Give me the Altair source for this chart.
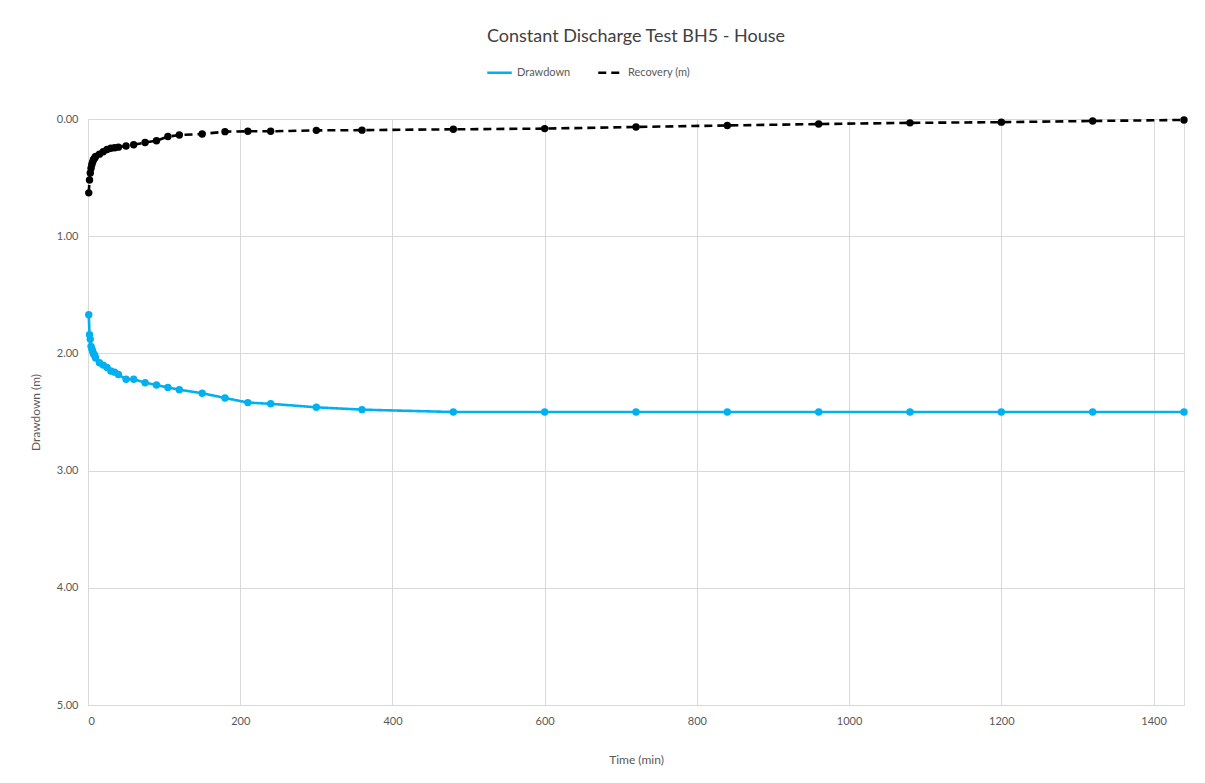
import altair as alt
import pandas as pd

times = [1, 2, 3, 4, 5, 6, 7, 8, 9, 10, 15, 20, 25, 30, 35, 40, 50, 60, 75, 90,
         105, 120, 150, 180, 210, 240, 300, 360, 480, 600, 720, 840, 960, 1080,
         1200, 1320, 1440]
drawdown = [1.67, 1.84, 1.88, 1.94, 1.96, 1.98, 2.00, 2.01, 2.02, 2.04, 2.08, 2.10,
            2.12, 2.15, 2.16, 2.18, 2.22, 2.22, 2.25, 2.27, 2.29, 2.31, 2.34, 2.38,
            2.42, 2.43, 2.46, 2.48, 2.50, 2.50, 2.50, 2.50, 2.50, 2.50, 2.50, 2.50, 2.50]
recovery = [0.63, 0.52, 0.46, 0.42, 0.39, 0.37, 0.35, 0.34, 0.33, 0.32, 0.30, 0.28,
            0.26, 0.25, 0.245, 0.24, 0.23, 0.22, 0.20, 0.185, 0.15, 0.137, 0.128, 0.108,
            0.105, 0.105, 0.097, 0.095, 0.088, 0.082, 0.068, 0.055, 0.043, 0.033,
            0.027, 0.017, 0.008]
series_names = ["Drawdown", "Recovery (m)"]
series_colors = ["#00B0F0", "#000000"]
x_ticks = [0, 200, 400, 600, 800, 1000, 1200, 1400]
y_ticks = [0, 1, 2, 3, 4, 5]

rows = []
for t, d in zip(times, drawdown):
    rows.append({"t": t, "v": d, "s": series_names[0]})
for t, r in zip(times, recovery):
    rows.append({"t": t, "v": r, "s": series_names[1]})
df = pd.DataFrame(rows)

FONT = "Lato"
GRAY = "#595959"

x = alt.X("t:Q", title="Time (min)",
          scale=alt.Scale(domain=[0, 1440], nice=False, zero=True),
          axis=alt.Axis(values=x_ticks, format="d", grid=True, gridColor="#d9d9d9",
                        ticks=False, domainColor="#d9d9d9", labelColor=GRAY,
                        labelFontSize=11, labelFont=FONT, titleFont=FONT,
                        titleFontSize=12, titleFontWeight="normal", titleColor=GRAY,
                        labelPadding=10, titlePadding=28))
y = alt.Y("v:Q", title="Drawdown (m)",
          scale=alt.Scale(domain=[0, 5], reverse=True, nice=False),
          axis=alt.Axis(values=y_ticks, format=".2f", grid=True, gridColor="#d9d9d9",
                        ticks=False, domainColor="#d9d9d9", labelColor=GRAY,
                        labelFontSize=11, labelFont=FONT, titleFont=FONT,
                        titleFontSize=12, titleFontWeight="normal", titleColor=GRAY,
                        labelPadding=10, titlePadding=14))
legend_cfg = dict(orient="none", legendX=398, legendY=-60, direction="horizontal",
                  symbolType="stroke", symbolStrokeWidth=2.5, symbolSize=600,
                  labelFont=FONT, labelFontSize=11, labelColor=GRAY, columnPadding=22)
color = alt.Color("s:N", title=None,
                  scale=alt.Scale(domain=series_names, range=series_colors),
                  legend=alt.Legend(**legend_cfg))
dash = alt.StrokeDash("s:N", title=None,
                      scale=alt.Scale(domain=series_names, range=[[1, 0], [8, 5]]),
                      legend=alt.Legend(**legend_cfg))

lines = alt.Chart(df).mark_line(strokeWidth=2.6).encode(
    x=x, y=y, color=color, strokeDash=dash, detail="s:N")
points = alt.Chart(df).mark_point(filled=True, size=55, opacity=1).encode(
    x="t:Q", y="v:Q",
    color=alt.Color("s:N", scale=alt.Scale(domain=series_names, range=series_colors),
                    legend=None))

chart = alt.layer(lines, points).properties(
    width=1096, height=586,
    title=alt.Title("Constant Discharge Test BH5 - House", font=FONT, fontSize=18,
                    fontWeight="normal", color="#404040", anchor="middle", offset=13),
    autosize=alt.AutoSizeParams(type="none"),
    padding={"left": 80, "top": 111, "right": 13, "bottom": 70},
).configure_view(stroke=None).configure(background="white")

chart.save("out.html", embed_options={"renderer": "svg", "actions": False})
